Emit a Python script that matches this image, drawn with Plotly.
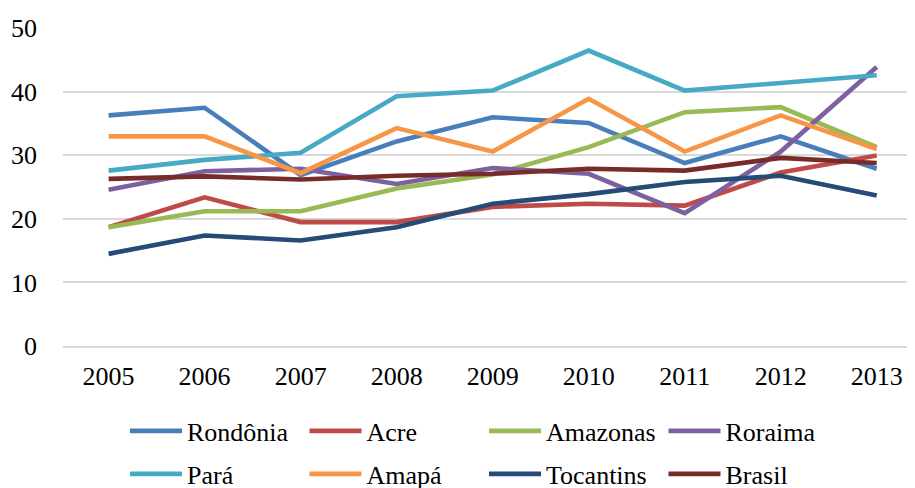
import plotly.graph_objects as go

years = ["2005", "2006", "2007", "2008", "2009", "2010", "2011", "2012", "2013"]

rondonia = [36.3, 37.5, 26.9, 32.2, 36.0, 35.1, 28.8, 33.0, 27.9]
acre = [18.7, 23.4, 19.5, 19.5, 21.9, 22.4, 22.1, 27.3, 30.0]
amazonas = [18.7, 21.2, 21.2, 24.8, 27.0, 31.3, 36.8, 37.6, 31.3]
roraima = [24.6, 27.5, 27.9, 25.5, 28.0, 27.1, 20.9, 30.6, 43.9]
para = [27.6, 29.3, 30.4, 39.3, 40.2, 46.5, 40.2, 41.4, 42.6]
amapa = [33.0, 33.0, 27.2, 34.3, 30.6, 38.9, 30.6, 36.3, 31.0]
tocantins = [14.5, 17.4, 16.6, 18.7, 22.4, 23.9, 25.8, 26.8, 23.7]
brasil = [26.3, 26.7, 26.2, 26.8, 27.1, 27.9, 27.6, 29.6, 28.8]

series = [
    ("Rondônia", rondonia, "#4A7EBB", "legend"),
    ("Acre", acre, "#BE4B48", "legend"),
    ("Amazonas", amazonas, "#98B954", "legend"),
    ("Roraima", roraima, "#7D60A0", "legend"),
    ("Pará", para, "#46AAC5", "legend2"),
    ("Amapá", amapa, "#F79646", "legend2"),
    ("Tocantins", tocantins, "#254B76", "legend2"),
    ("Brasil", brasil, "#772C2A", "legend2"),
]

FONT = "Liberation Serif, Times New Roman, serif"
GRID = "#D9D9D9"
# the page body keeps its 8px default margin, so everything sits 8px up/left
W, H = 907, 480

fig = go.Figure()
for name, values, color, legend in series:
    fig.add_trace(go.Scatter(
        x=list(range(len(years))), y=values,
        mode="lines",
        name=name,
        line=dict(color=color, width=4.6),
        legend=legend,
    ))

legend_common = dict(
    orientation="h",
    xref="container", yref="container",
    xanchor="left", yanchor="middle",
    font=dict(family=FONT, size=26, color="#000000"),
    itemwidth=52,
    entrywidth=112.5, entrywidthmode="pixels",
    bgcolor="rgba(0,0,0,0)",
    tracegroupgap=0,
)

fig.update_layout(
    width=W, height=H,
    margin=dict(l=55, r=2, t=20, b=H - 338),
    plot_bgcolor="white",
    paper_bgcolor="white",
    font=dict(family=FONT, size=26, color="#000000"),
    legend=dict(legend_common, x=117 / W, y=1 - 423 / H),
    legend2=dict(legend_common, x=117 / W, y=1 - 466 / H),
)
fig.update_xaxes(
    tickvals=list(range(len(years))), ticktext=years,
    range=[-0.475, 8.378],
    showgrid=False, zeroline=False,
    showline=True, linecolor=GRID, linewidth=1.5,
    ticks="", ticklabelstandoff=6,
    tickfont=dict(family=FONT, size=26),
)
fig.update_yaxes(
    range=[0, 50.05], dtick=10, tick0=0,
    showgrid=True, gridcolor=GRID, gridwidth=1.5,
    zeroline=False, showline=False,
    ticks="", ticklabelstandoff=25,
    tickfont=dict(family=FONT, size=26),
)

fig.write_html("out.html")
